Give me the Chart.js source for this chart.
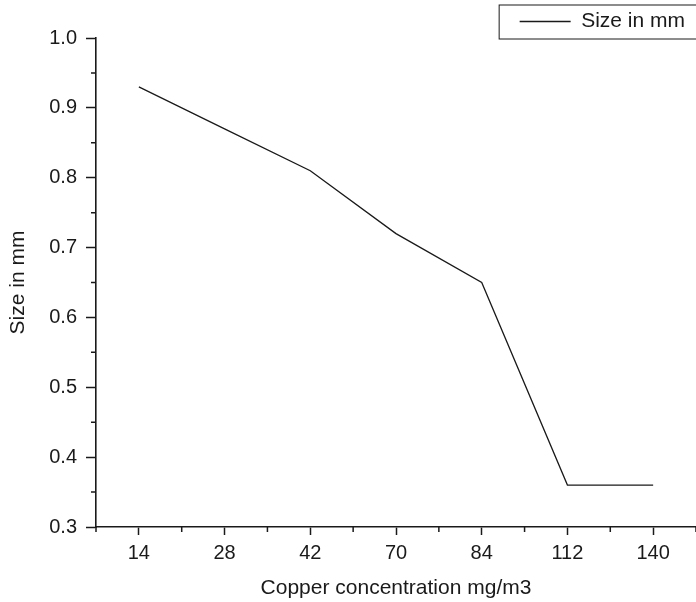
<!DOCTYPE html>
<html lang="en">
<head>
  <meta charset="UTF-8">
  <title>Size in mm vs copper concentration</title>
  <script src="https://cdn.jsdelivr.net/npm/chart.js"></script>
  <style>
    * {
      margin: 0;
      padding: 0;
      box-sizing: border-box;
    }

    body {
      background-color: #fff;
    }

    .chart-container {
      position: relative;
      width: 696px;
      height: 602px;
    }
  </style>
</head>
<body>
  <div class="chart-container">
    <canvas id="sizeChart"></canvas>
  </div>

  <script>
    // data
    const concentrations = ['14', '28', '42', '70', '84', '112', '140'];
    const sizeMm = [0.93, 0.87, 0.81, 0.72, 0.65, 0.36, 0.36];
    const yMin = 0.3;
    const yMax = 1.0;
    const yStep = 0.1;

    const ink = '#1a1a1a';
    const fontFamily = '"Liberation Sans", Arial, Helvetica, sans-serif';

    // short minor ticks between the major ones, plus a box round the legend
    const extras = {
      id: 'extras',
      afterDraw(chart) {
        const ctx = chart.ctx;
        const x = chart.scales.x;
        const y = chart.scales.y;
        ctx.save();
        ctx.strokeStyle = ink;
        ctx.lineWidth = 1.5;
        ctx.beginPath();
        for (let i = 0; i <= concentrations.length; i++) {
          const px = x.getPixelForValue(i - 0.5);
          ctx.moveTo(px, x.top);
          ctx.lineTo(px, x.top + 5);
        }
        for (let v = yMin + yStep / 2; v < yMax; v += yStep) {
          const py = y.getPixelForValue(v);
          ctx.moveTo(y.right, py);
          ctx.lineTo(y.right - 5, py);
        }
        ctx.stroke();

        const hb = chart.legend.legendHitBoxes[0];
        if (hb) {
          const mid = hb.top + hb.height / 2;
          ctx.lineWidth = 1;
          ctx.strokeRect(hb.left - 20.5, mid - 16.5, 240, 34);
        }
        ctx.restore();
      }
    };

    const ctx = document.getElementById('sizeChart').getContext('2d');
    new Chart(ctx, {
      type: 'line',
      data: {
        labels: concentrations,
        datasets: [{
          label: 'Size in mm',
          data: sizeMm,
          borderColor: ink,
          backgroundColor: ink,
          borderWidth: 1.3,
          pointRadius: 0,
          tension: 0
        }]
      },
      options: {
        responsive: true,
        maintainAspectRatio: false,
        animation: false,
        layout: { padding: 0 },
        plugins: {
          tooltip: { enabled: false },
          legend: {
            position: 'top',
            align: 'end',
            maxHeight: 38,
            labels: {
              color: ink,
              font: { family: fontFamily, size: 21 },
              boxWidth: 51,
              boxHeight: 0,
              padding: 11
            }
          }
        },
        scales: {
          x: {
            type: 'category',
            offset: true,
            afterFit(scale) { scale.height = 75; },
            border: { display: true, color: ink, width: 1.6 },
            grid: {
              drawOnChartArea: false,
              drawTicks: true,
              tickLength: 8,
              tickColor: ink,
              tickWidth: 1.5
            },
            ticks: {
              color: ink,
              padding: 6,
              maxRotation: 0,
              font: { family: fontFamily, size: 20 }
            },
            title: {
              display: true,
              text: 'Copper concentration mg/m3',
              color: ink,
              font: { family: fontFamily, size: 21 },
              padding: { top: 0, bottom: 1 }
            }
          },
          y: {
            min: yMin,
            max: yMax,
            afterFit(scale) { scale.width = 96; },
            border: { display: true, color: ink, width: 1.6 },
            grid: {
              drawOnChartArea: false,
              drawTicks: true,
              tickLength: 10,
              tickColor: ink,
              tickWidth: 1.5
            },
            ticks: {
              stepSize: yStep,
              color: ink,
              padding: 9,
              font: { family: fontFamily, size: 20 },
              callback: (v) => Number(v).toFixed(1)
            },
            title: {
              display: true,
              text: 'Size in mm',
              color: ink,
              font: { family: fontFamily, size: 21 },
              padding: { top: 6, bottom: 0 }
            }
          }
        }
      },
      plugins: [extras]
    });
  </script>
</body>
</html>
